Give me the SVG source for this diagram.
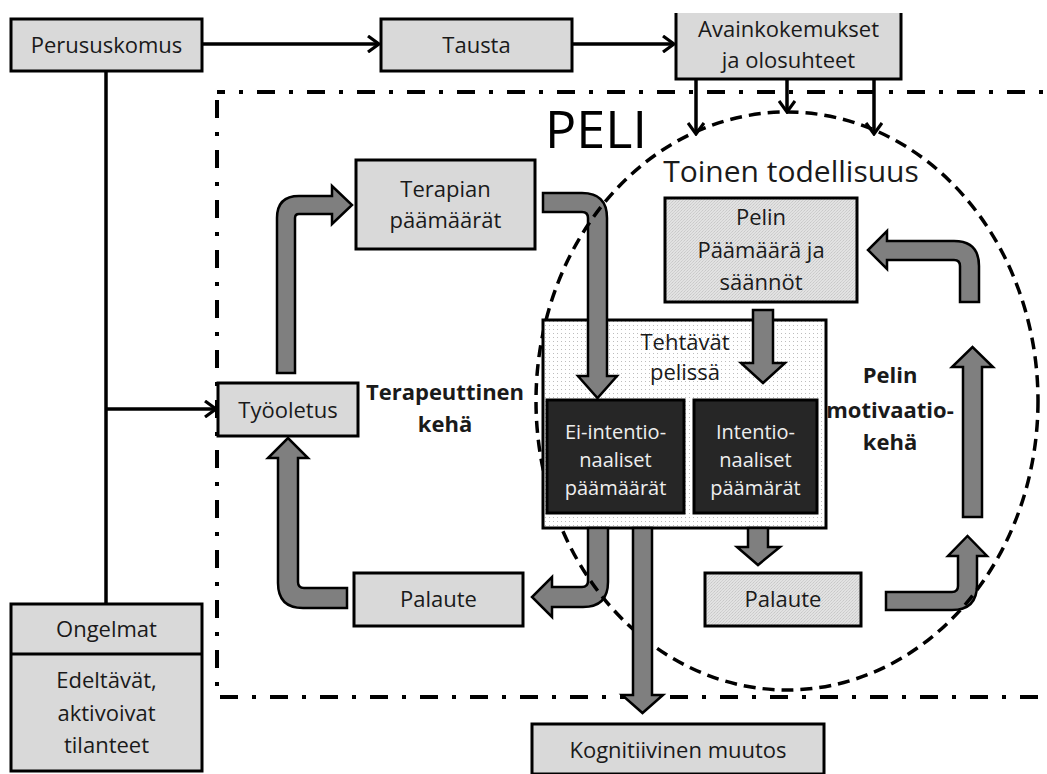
<svg xmlns="http://www.w3.org/2000/svg" width="1047" height="774" viewBox="0 0 1047 774">
  <defs>
    <style>
      .box { fill: #d9d9d9; stroke: #000; stroke-width: 3; }
      .tex { fill: url(#grain); stroke: #000; stroke-width: 3; }
      .dark { fill: #262626; stroke: #000; stroke-width: 3; }
      .dots { fill: url(#dotgrid); stroke: #000; stroke-width: 3; }
      .line { fill: none; stroke: #000; stroke-width: 3.5; }
      .block { fill: #7f7f7f; stroke: #000; stroke-width: 2.5; stroke-linejoin: miter; }
      .lbl { font-family: "Open Sans", "Liberation Sans", sans-serif; font-size: 22px; fill: #1a1a1a; text-anchor: middle; }
      .wht { fill: #eeeeee; font-size: 20px; }
      .bold { font-weight: bold; }
    </style>
    <pattern id="dotgrid" width="4" height="4" patternUnits="userSpaceOnUse">
      <rect width="4" height="4" fill="#ffffff"/>
      <rect x="1" y="1" width="1" height="1" fill="#bdbdbd"/>
    </pattern>
    <pattern id="grain" width="3" height="3" patternUnits="userSpaceOnUse">
      <rect width="3" height="3" fill="#e2e2e2"/>
      <rect x="0" y="0" width="1" height="1" fill="#c8c8c8"/>
      <rect x="2" y="1" width="1" height="1" fill="#cfcfcf"/>
      <rect x="1" y="2" width="1" height="1" fill="#d0d0d0"/>
    </pattern>
    <marker id="chev" viewBox="0 0 14 18" refX="12" refY="9" markerWidth="14" markerHeight="18" markerUnits="userSpaceOnUse" orient="auto">
      <path d="M1,1 L12,9 L1,17" fill="none" stroke="#000" stroke-width="3.2"/>
    </marker>
    <clipPath id="ovalClip">
      <path clip-rule="evenodd" d="M0,0H1047V774H0Z M543,320H826V528H543Z M633,528H652V695H663L642.5,713L620,695H633Z"/>
    </clipPath>
  </defs>

  <!-- game frame (dash-dot) -->
  <path d="M217,92 H1120 V697 H217 Z" fill="none" stroke="#000" stroke-width="4" stroke-dasharray="18 14 4 14" stroke-dashoffset="10"/>

  <!-- thin connectors -->
  <g id="connectors">
    <line class="line" x1="202" y1="44" x2="379" y2="44" marker-end="url(#chev)"/>
    <line class="line" x1="572" y1="44" x2="674" y2="44" marker-end="url(#chev)"/>
    <line class="line" x1="106" y1="71" x2="106" y2="604"/>
    <line class="line" x1="106" y1="409" x2="216" y2="409" marker-end="url(#chev)"/>
    <line class="line" x1="696" y1="79" x2="696" y2="134" marker-end="url(#chev)"/>
    <line class="line" x1="787" y1="79" x2="787" y2="112" marker-end="url(#chev)"/>
    <line class="line" x1="874" y1="79" x2="874" y2="134" marker-end="url(#chev)"/>
  </g>

  <!-- nodes -->
  <g id="perususkomus">
    <rect class="box" x="11" y="19" width="191" height="52"/>
    <text class="lbl" x="106.5" y="53">Perususkomus</text>
  </g>
  <g id="tausta">
    <rect class="box" x="381" y="19" width="191" height="52"/>
    <text class="lbl" x="476.5" y="53">Tausta</text>
  </g>
  <g id="avainkokemukset">
    <rect x="676" y="13" width="225" height="66" fill="#d9d9d9"/>
    <path d="M676,13 V79 H901 V13" fill="none" stroke="#000" stroke-width="3"/>
    <text class="lbl" x="788.5" y="37">Avainkokemukset</text>
    <text class="lbl" x="788.5" y="68">ja olosuhteet</text>
  </g>

  <g id="peli-title">
    <text x="596" y="148" font-family="'Open Sans', 'Liberation Sans', sans-serif" font-size="52" fill="#000" text-anchor="middle">PELI</text>
  </g>

  <g id="terapian-paamaarat">
    <rect class="box" x="356" y="160" width="179" height="89"/>
    <text class="lbl" x="445.5" y="197">Terapian</text>
    <text class="lbl" x="445.5" y="228">päämäärät</text>
  </g>

  <g id="tyooletus">
    <rect class="box" x="218" y="383" width="140" height="53"/>
    <text class="lbl" x="288" y="418">Työoletus</text>
  </g>

  <g id="terapeuttinen-keha">
    <text class="lbl bold" x="445" y="400">Terapeuttinen</text>
    <text class="lbl bold" x="445" y="432">kehä</text>
  </g>

  <g id="pelin-paamaara">
    <rect class="tex" x="665" y="198" width="192" height="104"/>
    <text class="lbl" x="761" y="225">Pelin</text>
    <text class="lbl" x="761" y="258">Päämäärä ja</text>
    <text class="lbl" x="761" y="290">säännöt</text>
  </g>

  <g id="tehtavat-pelissa">
    <rect class="dots" x="543" y="320" width="283" height="208"/>
    <text class="lbl" x="685" y="350">Tehtävät</text>
    <text class="lbl" x="685" y="380">pelissä</text>
  </g>
  <g id="ei-intentionaaliset">
    <rect class="dark" x="547" y="400" width="137" height="113"/>
    <text class="lbl wht" x="615.5" y="439">Ei-intentio-</text>
    <text class="lbl wht" x="615.5" y="467">naaliset</text>
    <text class="lbl wht" x="615.5" y="495">päämäärät</text>
  </g>
  <g id="intentionaaliset">
    <rect class="dark" x="694" y="400" width="123" height="113"/>
    <text class="lbl wht" x="755.5" y="439">Intentio-</text>
    <text class="lbl wht" x="755.5" y="467">naaliset</text>
    <text class="lbl wht" x="755.5" y="495">päämärät</text>
  </g>

  <g id="pelin-motivaatiokeha">
    <text class="lbl bold" x="890" y="383">Pelin</text>
    <text class="lbl bold" x="890" y="418">motivaatio-</text>
    <text class="lbl bold" x="890" y="450">kehä</text>
  </g>

  <g id="palaute-terapia">
    <rect class="box" x="354" y="573" width="169" height="53"/>
    <text class="lbl" x="438.5" y="607">Palaute</text>
  </g>
  <g id="palaute-peli">
    <rect class="tex" x="705" y="573" width="156" height="53"/>
    <text class="lbl" x="783" y="607">Palaute</text>
  </g>

  <g id="ongelmat">
    <rect class="box" x="11" y="604" width="191" height="167"/>
    <line x1="11" y1="654" x2="202" y2="654" stroke="#000" stroke-width="3"/>
    <text class="lbl" x="106.5" y="637">Ongelmat</text>
    <text class="lbl" x="106.5" y="688">Edeltävät,</text>
    <text class="lbl" x="106.5" y="721">aktivoivat</text>
    <text class="lbl" x="106.5" y="753">tilanteet</text>
  </g>

  <g id="kognitiivinen-muutos">
    <rect class="box" x="532" y="724" width="292" height="50"/>
    <text class="lbl" x="678" y="758">Kognitiivinen muutos</text>
  </g>

  <!-- block arrows of the two loops -->
  <g id="block-arrows">
    <path class="block" d="M277,373 L277,218 Q277,196 299,196 L332,196 L332,186 L352,205 L332,224 L332,214 L299,214 Q295,214 295,218 L295,373 Z"/>
    <path class="block" d="M543,193 L582,193 Q607,193 607,218 L607,376 L617,376 L597.5,398 L578,376 L588,376 L588,218 Q588,212 582,212 L543,212 Z"/>
    <path class="block" d="M753,310 L773,310 L773,363 L785,363 L763,383 L741,363 L753,363 Z"/>
    <path class="block" d="M960,302 L960,266 Q960,260 954,260 L887,260 L887,269 L868,250 L887,231 L887,241 L954,241 Q979,241 979,266 L979,302 Z"/>
    <path class="block" d="M963,517 L963,367 L952,367 L972.5,347 L993,367 L982,367 L982,517 Z"/>
    <path class="block" d="M886,592 L952,592 Q958,592 958,586 L958,556 L948,556 L967.5,536 L987,556 L977,556 L977,585 Q977,610 952,610 L886,610 Z"/>
    <path class="block" d="M347,588 L304,588 Q298,588 298,582 L298,458 L308,458 L288,438 L268,458 L278,458 L278,583 Q278,608 303,608 L347,608 Z"/>
    <path class="block" d="M588,528 L588,581 Q588,587 582,587 L552,587 L552,577 L532,597 L552,617 L552,607 L583,607 Q608,607 608,582 L608,528 Z"/>
    <path class="block" d="M748,528 L768,528 L768,547 L780,547 L758,565 L737,547 L748,547 Z"/>
    <path class="block" d="M633,528 L652,528 L652,695 L663,695 L642.5,713 L622,695 L633,695 Z"/>
  </g>

  <!-- boundary of the second reality -->
  <g id="toinen-todellisuus">
    <ellipse cx="787" cy="401" rx="251" ry="289" fill="none" stroke="#000" stroke-width="3.5" stroke-dasharray="12 7" clip-path="url(#ovalClip)"/>
    <text x="791" y="182" font-family="'Open Sans', 'Liberation Sans', sans-serif" font-size="30" fill="#1a1a1a" text-anchor="middle">Toinen todellisuus</text>
  </g>
</svg>
